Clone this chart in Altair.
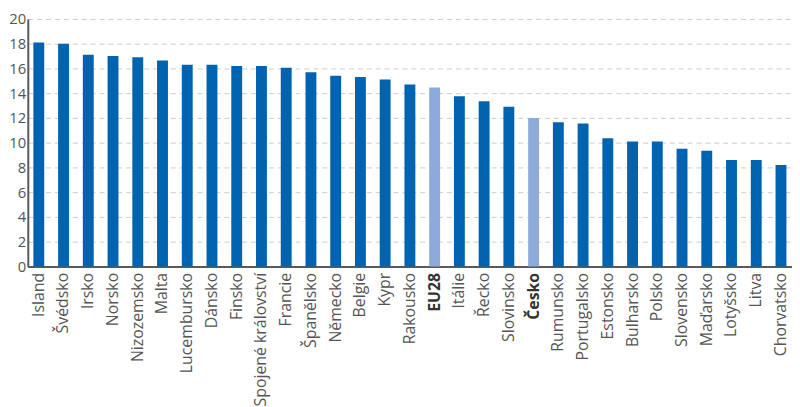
import altair as alt
import pandas as pd

countries = ["Island", "Švédsko", "Irsko", "Norsko", "Nizozemsko", "Malta", "Lucembursko",
             "Dánsko", "Finsko", "Spojené království", "Francie", "Španělsko", "Německo",
             "Belgie", "Kypr", "Rakousko", "EU28", "Itálie", "Řecko", "Slovinsko", "Česko",
             "Rumunsko", "Portugalsko", "Estonsko", "Bulharsko", "Polsko", "Slovensko",
             "Maďarsko", "Lotyšsko", "Litva", "Chorvatsko"]
values = [18.1, 18.0, 17.1, 17.0, 16.9, 16.65, 16.3, 16.3, 16.2, 16.2, 16.05, 15.7, 15.4,
          15.3, 15.1, 14.7, 14.45, 13.75, 13.35, 12.9, 12.0, 11.65, 11.55, 10.35, 10.1,
          10.1, 9.5, 9.35, 8.6, 8.6, 8.2]
highlight = ["EU28", "Česko"]

df = pd.DataFrame({"country": countries, "value": values})
df["hl"] = df["country"].isin(highlight)

font = "Open Sans"

chart = alt.Chart(df).mark_bar(size=11).encode(
    x=alt.X("country:N", sort=countries, title=None,
            scale=alt.Scale(paddingInner=0.55, paddingOuter=0.22),
            axis=alt.Axis(labelAngle=-90, labelAlign="right", labelBaseline="middle",
                          labelFontSize=16, labelFont=font, labelPadding=6,
                          labelColor=alt.expr("datum.value == 'EU28' || datum.value == 'Česko' ? '#333333' : '#555555'"),
                          labelFontWeight=alt.expr("datum.value == 'EU28' || datum.value == 'Česko' ? 'bold' : 'normal'"),
                          ticks=False, domainColor="#595959", domainWidth=2,
                          grid=False)),
    y=alt.Y("value:Q", title=None,
            scale=alt.Scale(domain=[0, 20], nice=False),
            axis=alt.Axis(values=list(range(0, 21, 2)), labelFontSize=15, labelFont=font,
                          labelColor="#555555", labelPadding=2, ticks=False,
                          domainColor="#595959", domainWidth=2,
                          grid=True, gridDash=[5, 4], gridColor="#cccccc", gridWidth=1)),
    color=alt.Color("hl:N", scale=alt.Scale(domain=[False, True], range=["#0063af", "#8eaadb"]),
                    legend=None),
).properties(width=772, height=250,
             padding={"top": 2, "left": 0, "right": 0, "bottom": 0}).configure_view(stroke=None)

chart.save("out.html", embed_options={"renderer": "svg", "actions": False})
